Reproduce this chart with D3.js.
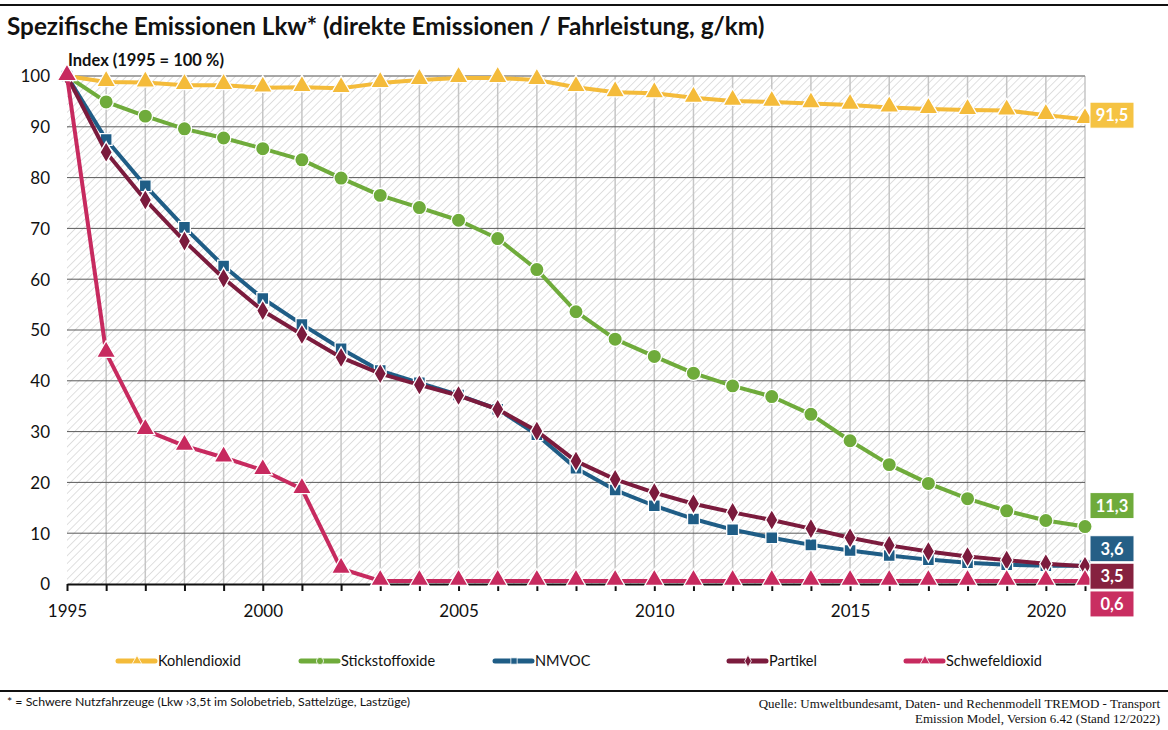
<!DOCTYPE html>
<html><head><meta charset="utf-8">
<script src="https://cdn.jsdelivr.net/npm/d3@7"></script>
<style>
body{margin:0;background:#fff;}
svg{display:block;font-family:Lato,"Noto Sans",sans-serif;}
</style></head><body>
<svg id="c" width="1168" height="730"></svg>
<script>
const years = d3.range(1995, 2022);
const yTicks = [0,10,20,30,40,50,60,70,80,90,100];
const xTickLabels = [1995,2000,2005,2010,2015,2020];
const seriesNames = ["Kohlendioxid","Stickstoffoxide","NMVOC","Partikel","Schwefeldioxid"];
const co2  = [100,98.8,98.7,98.2,98.2,97.7,97.8,97.6,98.6,99.2,99.6,99.6,99.2,97.8,96.8,96.6,95.7,95.1,94.9,94.6,94.3,93.8,93.5,93.3,93.2,92.3,91.5];
const nox  = [100,94.9,92.1,89.6,87.8,85.7,83.5,79.9,76.5,74.1,71.6,68.0,61.9,53.6,48.2,44.8,41.5,39.0,36.9,33.4,28.2,23.5,19.8,16.8,14.4,12.5,11.3];
const nmvoc= [100,87.5,78.4,70.2,62.6,56.2,51.1,46.3,42.0,39.6,37.2,34.4,29.4,22.8,18.5,15.4,12.8,10.7,9.1,7.7,6.6,5.6,4.8,4.2,3.8,3.6,3.6];
const pm   = [100,85.0,75.6,67.5,60.2,53.8,49.1,44.6,41.4,39.2,37.1,34.4,30.1,24.2,20.6,18.0,15.8,14.1,12.6,10.9,9.1,7.6,6.4,5.4,4.7,4.0,3.5];
const so2  = [100,45.5,30.3,27.2,24.9,22.4,18.7,3.0,0.6,0.6,0.6,0.6,0.6,0.6,0.6,0.6,0.6,0.6,0.6,0.6,0.6,0.6,0.6,0.6,0.6,0.6,0.6];
const endLabels = ["91,5","11,3","3,6","3,5","0,6"];

const colors = ["#f4bb3a","#6fab3b","#1f5d86","#7b1b3d","#c72a5f"];
const boxColors = ["#f5c343","#6fab3b","#255f86","#86213f","#c92e61"];
const markers = ["triangle","circle","square","diamond","triangle"];
const labelDy = [-4,-21,-17,10,23];
const data = [co2,nox,nmvoc,pm,so2];

const svg = d3.select("#c");
const x = d3.scaleLinear().domain([1995,2021]).range([67,1085]);
const y = d3.scaleLinear().domain([0,100]).range([584,76]);

// top rule
svg.append("line").attr("x1",0).attr("x2",1168).attr("y1",5).attr("y2",5).attr("stroke","#111").attr("stroke-width",2);
svg.append("text").attr("x",7).attr("y",35).attr("font-size",24.3).attr("font-weight",700).attr("fill","#111")
  .text("Spezifische Emissionen Lkw* (direkte Emissionen / Fahrleistung, g/km)");
svg.append("text").attr("x",68).attr("y",66).attr("font-size",16.5).attr("font-weight",700).attr("fill","#111")
  .text("Index (1995 = 100 %)");

// hatch pattern
const defs = svg.append("defs");
const pat = defs.append("pattern").attr("id","hatch").attr("patternUnits","userSpaceOnUse")
  .attr("width",5.5).attr("height",5.5).attr("patternTransform","rotate(45)");
pat.append("line").attr("x1",0).attr("y1",0).attr("x2",0).attr("y2",5.5).attr("stroke","#cbcbcb").attr("stroke-width",1.2);
svg.append("rect").attr("x",x(1995)).attr("y",y(100)).attr("width",x(2021)-x(1995)).attr("height",y(0)-y(100)).attr("fill","url(#hatch)");

// vertical grid
svg.append("g").selectAll("line").data(years.slice(1)).join("line")
  .attr("x1",d=>x(d)).attr("x2",d=>x(d)).attr("y1",y(100)).attr("y2",y(0))
  .attr("stroke","#c6c6c6").attr("stroke-width",1.5);
// horizontal grid
svg.append("g").selectAll("line").data(yTicks.filter(d=>d>0)).join("line")
  .attr("x1",x(1995)).attr("x2",x(2021)).attr("y1",d=>y(d)).attr("y2",d=>y(d))
  .attr("stroke",d=>d===100?"#8a8a8a":"#5a5a5a").attr("stroke-width",d=>d===100?1.5:1);

// y axis labels
const yAxis = d3.axisLeft(y).tickValues(yTicks).tickSize(0).tickPadding(0).tickFormat(d3.format("d"));
const ga = svg.append("g").attr("transform",`translate(${x(1995)-17},0)`).call(yAxis);
ga.select(".domain").remove();
ga.selectAll("text").attr("font-size",17).attr("font-family","Lato,sans-serif").attr("fill","#111").attr("dy","0.35em");

// x axis
const xAxis = d3.axisBottom(x).tickValues(years).tickSize(7).tickSizeOuter(0).tickFormat(d=>xTickLabels.includes(d)?d:"");
const gx = svg.append("g").attr("transform",`translate(0,${y(0)})`).call(xAxis);
gx.select(".domain").attr("stroke","#111").attr("stroke-width",2);
gx.selectAll(".tick line").attr("stroke","#111").attr("stroke-width",2);
gx.selectAll("text").attr("font-size",17).attr("font-family","Lato,sans-serif").attr("fill","#111").attr("dy","1.35em");

// series
const line = d3.line().x((d,i)=>x(years[i])).y(d=>y(d));
function markerPath(type, s){
  const sym = {triangle:d3.symbolTriangle,circle:d3.symbolCircle,square:d3.symbolSquare,diamond:d3.symbolDiamond}[type];
  return d3.symbol().type(sym).size(s)();
}
const mSize = {triangle:160,circle:160,square:140,diamond:130};
data.forEach((vals,k)=>{
  const g = svg.append("g");
  g.append("path").datum(vals).attr("d",line).attr("fill","none").attr("stroke",colors[k]).attr("stroke-width",4).attr("stroke-linejoin","round");
  g.selectAll("path.m").data(vals).join("path").attr("class","m")
    .attr("d",markerPath(markers[k],mSize[markers[k]]))
    .attr("transform",(d,i)=>`translate(${x(years[i])},${y(d)+(markers[k]==="triangle"?-1:0)})`)
    .attr("fill",colors[k]).attr("stroke","#fff").attr("stroke-width",1.3);
});

// end labels
data.forEach((vals,k)=>{
  const cy = y(vals[vals.length-1]) + labelDy[k];
  const g = svg.append("g").attr("transform",`translate(${x(2021)+5},${cy})`);
  g.append("rect").attr("x",0).attr("y",-13).attr("width",44).attr("height",26).attr("fill",boxColors[k]).attr("stroke","#fff").attr("stroke-width",1);
  g.append("text").attr("x",22).attr("y",0).attr("dy","0.36em").attr("text-anchor","middle").attr("font-size",16.5).attr("font-weight",700)
    .attr("fill","#fff").text(endLabels[k]);
});

// legend
const legX = [117,300,494,728,905];
seriesNames.forEach((n,k)=>{
  const g = svg.append("g").attr("transform",`translate(${legX[k]},661)`);
  g.append("line").attr("x1",1).attr("x2",17).attr("y1",0).attr("y2",0).attr("stroke",colors[k]).attr("stroke-width",5).attr("stroke-linecap","round");
  g.append("line").attr("x1",23).attr("x2",38).attr("y1",0).attr("y2",0).attr("stroke",colors[k]).attr("stroke-width",5).attr("stroke-linecap","round");
  g.append("path").attr("d",markerPath(markers[k],40)).attr("transform","translate(20,0)").attr("fill",colors[k]).attr("stroke","#fff").attr("stroke-width",0.8);
  g.append("text").attr("x",41).attr("y",0).attr("dy","0.35em").attr("font-size",14.5).attr("fill","#111").text(n);
});

// footer
svg.append("line").attr("x1",0).attr("x2",1168).attr("y1",691).attr("y2",691).attr("stroke","#111").attr("stroke-width",2);
svg.append("text").attr("x",7).attr("y",706).attr("font-size",12.3).attr("fill","#111")
  .text("* = Schwere Nutzfahrzeuge (Lkw \u203A3,5t im Solobetrieb, Sattelzüge, Lastzüge)");
svg.append("text").attr("x",1160).attr("y",708).attr("text-anchor","end").attr("font-size",13).attr("font-family","'Liberation Serif','DejaVu Serif',serif").attr("fill","#111")
  .text("Quelle: Umweltbundesamt, Daten- und Rechenmodell TREMOD - Transport");
svg.append("text").attr("x",1160).attr("y",723).attr("text-anchor","end").attr("font-size",13).attr("font-family","'Liberation Serif','DejaVu Serif',serif").attr("fill","#111")
  .text("Emission Model, Version 6.42 (Stand 12/2022)");
</script>
</body></html>
